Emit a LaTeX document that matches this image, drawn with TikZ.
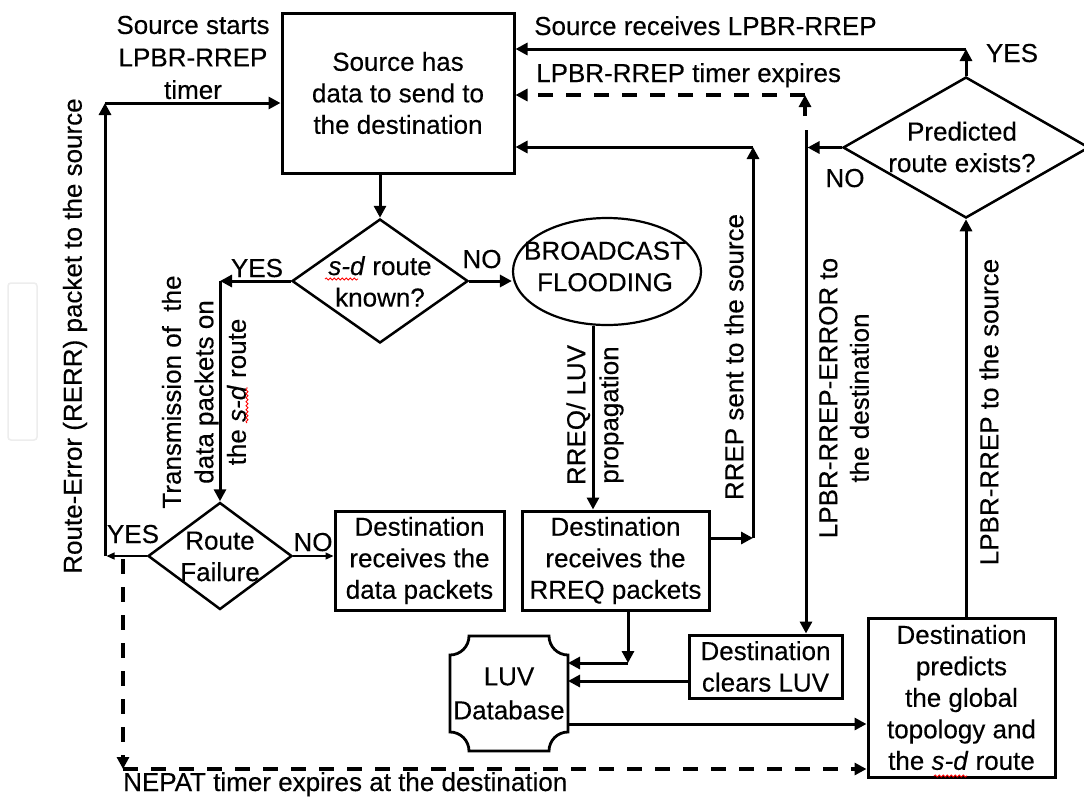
\documentclass[tikz,border=0pt]{standalone}
\usepackage{fontspec}
\setmainfont{Liberation Sans}[FakeBold=0.3]
\usetikzlibrary{arrows.meta,shapes.geometric,calc,decorations.pathmorphing}
\begin{document}
\begin{tikzpicture}[x=1pt,y=-1pt,
  every node/.style={font=\fontsize{26pt}{31.5pt}\selectfont, inner sep=0pt},
  box/.style={draw, rectangle, line width=3pt, align=center},
  dia/.style={draw, diamond, line width=2.5pt},
  arr/.style={line width=3pt, -{Triangle[length=12pt,width=12pt]}},
  tarr/.style={line width=1.3pt, -{Triangle[length=8pt,width=7pt]}},
  darr/.style={line width=3.2pt, dash pattern=on 15pt off 13pt, -{Triangle[length=12pt,width=12pt]}},
  squig/.style={draw=red, line width=0.8pt, decorate, decoration={snake, amplitude=1.1pt, segment length=4pt}},
  lbl/.style={anchor=base},
  side/.style={rotate=90, align=center},
]
\useasboundingbox (0,0) rectangle (1084,796);
\fill[white] (0,0) rectangle (1084,796);
\node[draw=black!7, fill=white, line width=1.5pt, rounded corners=3pt,
      minimum width=29pt, minimum height=157pt] (tab) at (22.5,361.5) {};

% ---- blocks ----
\node[box, minimum width=232pt, minimum height=160pt] (src) at (398,93)
  {Source has\\data to send to\\the destination};
\node[dia, minimum width=176pt, minimum height=124pt] (sd) at (380,281) {};
\node[align=center] (sdT) at (380,281.5) {\textit{s-d} route\\known?};
\node[draw, ellipse, line width=2.2pt, minimum width=188pt, minimum height=107pt] (bc) at (607,271.5) {};
\node[align=center] (bcT) at (605,266.5) {BROADCAST\\FLOODING};
\node[dia, minimum width=144pt, minimum height=107pt] (rf) at (220,556) {};
\node[align=center] (rfT) at (220,556.5) {Route\\Failure};
\node[box, minimum width=169pt, minimum height=99pt] (dd) at (419.5,560.5)
  {Destination\\receives the\\data packets};
\node[box, minimum width=187pt, minimum height=99pt] (rq) at (615.5,560.5)
  {Destination\\receives the\\RREQ packets};
\node[box, minimum width=153pt, minimum height=63pt] (cl) at (765.5,666.5)
  {Destination\\clears LUV};
\node[box, minimum width=187pt, minimum height=159pt] (pr) at (961.5,697.5)
  {Destination\\predicts\\the global\\topology and\\the \textit{s-d} route};
\node[dia, minimum width=246pt, minimum height=141pt] (pd) at (966,147.5) {};
\node[align=center] (pdT) at (962,147) {Predicted\\route exists?};

% LUV database: rectangle with concave corners
\node[minimum width=118pt, minimum height=115pt, outer sep=0pt, align=center,
      font=\fontsize{26pt}{34pt}\selectfont] (luv) at (509,693.5) {LUV\\Database};
\draw[line width=2.8pt] ($(luv.north west)+(19,0)$) -- ($(luv.north east)+(-19,0)$)
   arc[start angle=180, end angle=90, radius=19]
   -- ($(luv.south east)+(0,-19)$)
   arc[start angle=270, end angle=180, radius=19]
   -- ($(luv.south west)+(19,0)$)
   arc[start angle=0, end angle=-90, radius=19]
   -- ($(luv.north west)+(0,19)$)
   arc[start angle=90, end angle=0, radius=19]
   -- cycle;

% ---- bend points ----
\coordinate (rerrB) at (105,556);
\coordinate (rerrT) at (105,103);
\coordinate (nepA) at (123,559);
\coordinate (nepB) at (123,769);
\coordinate (yesT) at (966,49);
\coordinate (errT) at (806,130);
\coordinate (tmA) at (805,116);
\coordinate (tmB) at (805,95);
\coordinate (rrB) at (753,538);
\coordinate (rrT) at (753,147);
\coordinate (rqL) at (628,663);

% ---- connectors ----
\draw[arr] (src.south -| sd.north) -- (sd.north);
\draw[arr] (sd.west) -- (rf.north |- sd.west);
\draw[arr] (rf.north |- sd.west) -- (rf.north);
\draw[arr] (sd.east) -- (bc.west |- sd.east);
\draw[arr] ([xshift=-14pt]bc.south) -- ([xshift=-14pt]bc.south |- rq.north);
\draw[tarr] (rf.east) -- (dd.west |- rf.east);
\draw[tarr] (rf.west) -- ($(rerrB)+(1.5,0)$);
\draw[arr] (rerrB) -- (rerrT);
\draw[arr] (rerrT) -- (src.west |- rerrT);
\draw[darr] (nepA) -- (nepB);
\draw[darr] (nepB) -- (pr.west |- nepB);
\draw[arr] (rq.south -| rqL) -- (rqL);
\draw[arr] (rqL) -- (luv.east |- rqL);
\draw[arr] ($(cl.west)+(0,14.5)$) -- ($(luv.east |- cl.west)+(0,14.5)$);
\draw[arr] ($(luv.east)+(0,30.5)$) -- ($(pr.west |- luv.east)+(0,30.5)$);
\draw[arr] (pr.north -| pd.south) -- (pd.south);
\draw[arr] (pd.north) -- (yesT);
\draw[arr] (yesT) -- (src.east |- yesT);
\draw[arr] (pd.west) -- ($(pd.west -| errT)+(1.5,0)$);
\draw[arr] (errT) -- (errT |- cl.north);
\draw[darr] (tmA) -- (tmB);
\draw[darr] (tmB) -- (src.east |- tmB);
\draw[arr] (rq.east |- rrB) -- (rrB);
\draw[arr] (rrB) -- (rrT);
\draw[arr] (rrT) -- (src.east |- rrT);

% ---- labels ----
\node[align=center, font=\fontsize{26pt}{32.5pt}\selectfont] (tStart) at (193,57.5)
  {Source starts\\LPBR-RREP\\timer};
\node[anchor=base west] (tRecv) at (534,35) {Source receives LPBR-RREP};
\node[anchor=base west] (tExp) at (536,82) {LPBR-RREP timer expires};
\node[lbl] (tYes1) at (1012,62) {YES};
\node[lbl] (tNo1) at (845,187) {NO};
\node[lbl] (tYes2) at (257,277) {YES};
\node[lbl] (tNo2) at (482,268) {NO};
\node[lbl] (tYes3) at (133,543) {YES};
\node[lbl] (tNo3) at (313,551) {NO};
\node[anchor=base west] (tNepat) at (123,791) {NEPAT timer expires at the destination};
\node[side] (tRerr) at (75,336) {Route-Error (RERR) packet to the source};
\node[side, font=\fontsize{26pt}{32.5pt}\selectfont] (tTrans) at (204,392)
  {Transmission of\ \ the\\data packets on\\the \textit{s-d} route};
\node[side, font=\fontsize{26pt}{33pt}\selectfont] (tRreq) at (595,415) {RREQ/ LUV\\propagation};
\node[side] (tRrep) at (734,357) {RREP sent to the source};
\node[side] (tErr) at (844,398) {LPBR-RREP-ERROR to\\the destination};
\node[side] (tLp) at (989,412) {LPBR-RREP to the source};

% spell-check marks under s-d
\path[squig] (325,279) -- (358,279);
\path[squig] (247,423) -- (247,387);
\path[squig] (934,776) -- (967,776);
\end{tikzpicture}
\end{document}
